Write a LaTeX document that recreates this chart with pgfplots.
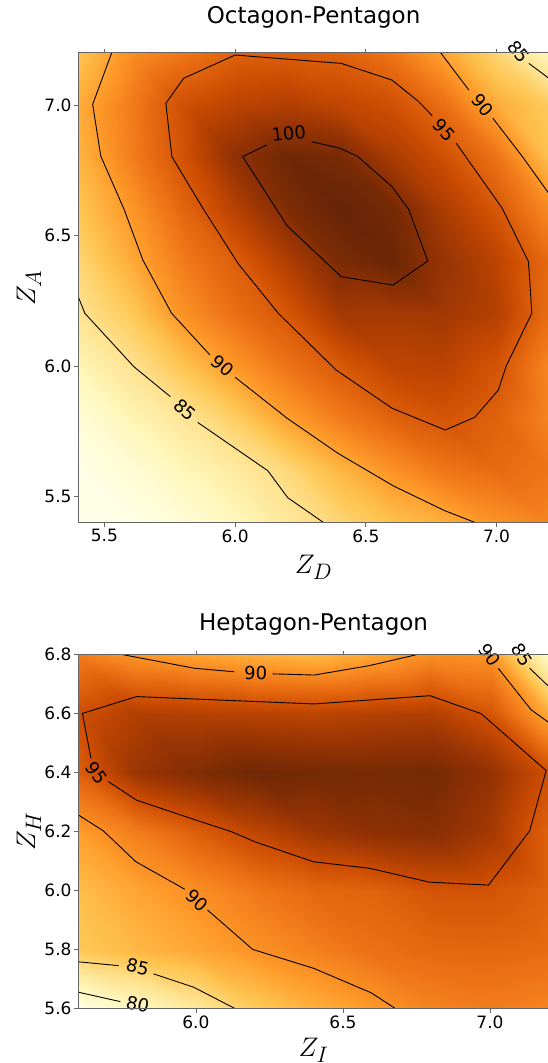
\documentclass[border=0pt]{standalone}
\usepackage{fontspec}
\setmainfont{DejaVu Sans}
\usepackage{pgfplots}
\usepackage{pgfplotstable}
\pgfplotsset{compat=1.18}

\newcommand{\tf}{\fontsize{17}{20}\selectfont}
\newcommand{\cf}{\fontsize{18}{21}\selectfont}
\newcommand{\ttl}{\fontsize{23}{27}\selectfont}
\newcommand{\lf}{\fontsize{24.88}{28}\selectfont}

\tikzset{
  cline/.style={black, line width=0.9pt},
  clab/.style={font=\cf, inner sep=0pt},
}
\pgfplotsset{
  colormap={ylorbr}{rgb255=(255,255,229) rgb255=(255,247,188) rgb255=(254,227,145) rgb255=(254,196,79) rgb255=(254,153,41) rgb255=(236,112,20) rgb255=(204,76,2) rgb255=(153,52,4) rgb255=(102,37,6)},
  myaxis/.style={
    scale only axis, width=470.5pt,
    axis on top, enlargelimits=false, clip mode=individual,
    tick align=outside, major tick length=4pt,
    every tick/.append style={gray!80!black, line width=0.7pt},
    axis line style={gray!80!black, line width=0.8pt},
    ticklabel style={font=\tf, inner sep=2.6pt},
    /pgf/number format/assume math mode=true,
    ylabel style={font=\lf, anchor=base, at={(axis description cs:-0.092,0.5)}},
    unbounded coords=jump,
  }
}

\pgfplotstableread{
x y z
5.4 5.4 77.0
5.6 5.4 78.2
5.8 5.4 80.0
6.0 5.4 81.8
6.2 5.4 84.0
6.4 5.4 86.0
6.6 5.4 87.8
6.8 5.4 89.0
7.0 5.4 91.0
7.2 5.4 92.0
5.4 5.6 78.5
5.6 5.6 80.2
5.8 5.6 82.0
6.0 5.6 83.8
6.2 5.6 85.8
6.4 5.6 88.6
6.6 5.6 91.0
6.8 5.6 93.0
7.0 5.6 93.8
7.2 5.6 93.0
5.4 5.8 80.0
5.6 5.8 82.3
5.8 5.8 84.4
6.0 5.8 86.8
6.2 5.8 90.05
6.4 5.8 92.6
6.6 5.8 94.5
6.8 5.8 95.6
7.0 5.8 94.5
7.2 5.8 92.0
5.4 6.0 82.2
5.6 6.0 84.8
5.8 6.0 87.6
6.0 6.0 90.6
6.2 6.0 93.2
6.4 6.0 95.2
6.6 6.0 97.0
6.8 6.0 97.3
7.0 6.0 95.6
7.2 6.0 91.8
5.4 6.2 84.7
5.6 6.2 87.2
5.8 6.2 91.0
6.0 6.2 93.5
6.2 6.2 95.4
6.4 6.2 98.5
6.6 6.2 98.4
6.8 6.2 98.6
7.0 6.2 97.6
7.2 6.2 93.6
5.4 6.4 86.0
5.6 6.4 89.3
5.8 6.4 92.6
6.0 6.4 94.8
6.2 6.4 97.8
6.4 6.4 100.8
6.6 6.4 101.7
6.8 6.4 99.2
7.0 6.4 97.2
7.2 6.4 93.8
5.4 6.6 87.5
5.6 6.6 90.7
5.8 6.6 94.2
6.0 6.6 97.5
6.2 6.6 100.6
6.4 6.6 102.0
6.6 6.6 101.2
6.8 6.6 98.0
7.0 6.6 95.3
7.2 6.6 91.5
5.4 6.8 88.6
5.6 6.8 92.4
5.8 6.8 95.8
6.0 6.8 99.7
6.2 6.8 101.5
6.4 6.8 101.0
6.6 6.8 98.2
6.8 6.8 96.0
7.0 6.8 93.2
7.2 6.8 87.8
5.4 7.0 89.2
5.6 7.0 92.6
5.8 7.0 96.0
6.0 7.0 97.2
6.2 7.0 97.8
6.4 7.0 96.9
6.6 7.0 96.0
6.8 7.0 93.5
7.0 7.0 89.3
7.2 7.0 87.0
5.4 7.2 87.5
5.6 7.2 91.3
5.8 7.2 93.0
6.0 7.2 94.6
6.2 7.2 94.8
6.4 7.2 94.5
6.6 7.2 93.0
6.8 7.2 89.8
7.0 7.2 86.0
7.2 7.2 82.0
}\topdata

\pgfplotstableread{
x y z
5.6 5.6 77.5
5.8 5.6 80.5
6.0 5.6 83.0
6.2 5.6 86.0
6.4 5.6 88.0
6.6 5.6 89.5
6.8 5.6 91.0
7.0 5.6 91.5
7.2 5.6 91.0
5.6 5.8 86.3
5.8 5.8 87.5
6.0 5.8 88.6
6.2 5.8 90.0
6.4 5.8 91.2
6.6 5.8 92.4
6.8 5.8 93.0
7.0 5.8 93.2
7.2 5.8 92.8
5.6 6.0 87.0
5.8 6.0 88.8
6.0 6.0 90.2
6.2 6.0 91.8
6.4 6.0 93.0
6.6 6.0 93.4
6.8 6.0 94.6
7.0 6.0 94.6
7.2 6.0 93.5
5.6 6.2 89.2
5.8 6.2 91.5
6.0 6.2 93.8
6.2 6.2 96.0
6.4 6.2 97.8
6.6 6.2 98.8
6.8 6.2 99.2
7.0 6.2 97.5
7.2 6.2 93.5
5.6 6.4 93.8
5.8 6.4 98.0
6.0 6.4 99.5
6.2 6.4 100.5
6.4 6.4 100.2
6.6 6.4 100.0
6.8 6.4 100.2
7.0 6.4 98.5
7.2 6.4 95.0
5.6 6.6 95.0
5.8 6.6 96.8
6.0 6.6 96.6
6.2 6.6 96.4
6.4 6.6 96.2
6.6 6.6 96.6
6.8 6.6 96.8
7.0 6.6 94.7
7.2 6.6 88.4
5.6 6.8 91.5
5.8 6.8 89.7
6.0 6.8 88.8
6.2 6.8 88.0
6.4 6.8 87.5
6.6 6.8 88.6
6.8 6.8 90.3
7.0 6.8 89.95
7.2 6.8 80.0
}\botdata

\begin{document}
\begin{tikzpicture}
\useasboundingbox (0pt,0pt) rectangle (548pt,1063pt);

% ---------------- Top: Octagon-Pentagon ----------------
\begin{axis}[myaxis,
  at={(78.3pt,540.3pt)}, anchor=south west, height=470pt,
  xmin=5.4, xmax=7.2, ymin=5.4, ymax=7.2,
  xtick={5.5,6.0,6.5,7.0}, xticklabels={5.5,6.0,6.5,7.0},
  ytick={5.5,6.0,6.5,7.0}, yticklabels={5.5,6.0,6.5,7.0},
  point meta min=79, point meta max=102,
  title={Octagon-Pentagon},
  title style={font=\ttl, anchor=base, at={(axis description cs:0.5,1)}, yshift=22.7pt},
  xlabel={\scalebox{1.08}{$Z_D$}},
  xlabel style={font=\lf, anchor=base, at={(axis description cs:0.5,-0.1077)}},
  ylabel={\scalebox{1.08}{$Z_A$}},
]
\addplot[surf, shader=interp, mesh/rows=10, mesh/cols=10, point meta=\thisrow{z}] table[x=x, y=y] {\topdata};

% 85 (lower left)
\addplot[cline] coordinates {(5.4,6.265) (5.425,6.202) (5.613,5.997) (5.752,5.883) (nan,nan) (5.857,5.784) (6.125,5.599) (6.201,5.496) (6.339,5.4)};
% 90 (left / bottom)
\addplot[cline] coordinates {(5.528,7.2) (5.455,7.002) (5.486,6.804) (5.576,6.598) (5.647,6.406) (5.757,6.202) (5.904,6.042) (nan,nan) (6.0,5.957) (6.199,5.80) (6.393,5.666) (6.607,5.54) (6.802,5.446) (6.92,5.4)};
% 95 (loop)
\addplot[cline] coordinates {(6.754,6.958) (6.703,7.012) (6.6,7.095) (6.406,7.159) (6.0,7.191) (5.803,7.102) (5.735,7.006) (5.758,6.802) (5.873,6.61) (6.011,6.393) (6.165,6.202) (6.386,5.985) (6.601,5.838) (6.804,5.755) (6.917,5.804) (7.007,5.908) (7.037,6.0) (7.135,6.202) (7.127,6.329) (7.122,6.4) (7.022,6.604) (6.846,6.853)};
% 100
\addplot[cline] coordinates {(6.293,6.859) (6.401,6.834) (6.467,6.804) (6.6,6.687) (6.664,6.6) (6.737,6.402) (6.604,6.31) (6.406,6.342) (6.199,6.537) (6.029,6.802) (6.122,6.847)};
% 90 (top right)
\addplot[cline] coordinates {(6.786,7.2) (6.894,7.057) (nan,nan) (6.986,6.949) (7.099,6.802) (7.2,6.661)};
% 85 (top right)
\addplot[cline] coordinates {(7.124,7.159) (7.2,7.102)};

\node[clab, rotate=6] at (axis cs:6.205,6.891) {100};
\node[clab, rotate=-49] at (axis cs:6.80,6.905) {95};
\node[clab, rotate=-50] at (axis cs:6.946,7.0) {90};
\node[clab, rotate=-50] at (axis cs:7.086,7.204) {85};
\node[clab, rotate=-41] at (axis cs:5.953,6.0) {90};
\node[clab, rotate=-41] at (axis cs:5.809,5.832) {85};
\end{axis}

% ---------------- Bottom: Heptagon-Pentagon ----------------
\begin{axis}[myaxis,
  at={(78.3pt,54.3pt)}, anchor=south west, height=354pt,
  xmin=5.6, xmax=7.2, ymin=5.6, ymax=6.8,
  xtick={6.0,6.5,7.0}, xticklabels={6.0,6.5,7.0},
  ytick={5.6,5.8,6.0,6.2,6.4,6.6,6.8}, yticklabels={5.6,5.8,6.0,6.2,6.4,6.6,6.8},
  point meta min=78, point meta max=101,
  title={Heptagon-Pentagon},
  title style={font=\ttl, anchor=base, at={(axis description cs:0.5,1)}, yshift=18pt},
  xlabel={\scalebox{1.08}{$Z_I$}},
  xlabel style={font=\lf, anchor=base, at={(axis description cs:0.5,-0.1356)}},
  ylabel={\scalebox{1.08}{$Z_H$}},
]
\addplot[surf, shader=interp, mesh/rows=7, mesh/cols=9, point meta=\thisrow{z}] table[x=x, y=y] {\botdata};

% 90 (top)
\addplot[cline] coordinates {(5.752,6.8) (5.995,6.754) (6.131,6.742) (nan,nan) (6.261,6.735) (6.402,6.731) (6.59,6.763) (6.75,6.8)};
% 95 (loop)
\addplot[cline] coordinates {(5.643,6.449) (5.614,6.601) (5.798,6.658) (6.402,6.633) (6.796,6.661) (6.97,6.6) (7.191,6.407) (7.135,6.203) (6.995,6.019) (6.794,6.029) (6.59,6.076) (6.4,6.098) (6.2,6.166) (6.121,6.2) (5.998,6.24) (5.798,6.307) (5.702,6.37)};
% 90 (lower)
\addplot[cline] coordinates {(5.6,6.257) (5.685,6.203) (5.796,6.098) (5.962,6.005) (nan,nan) (6.039,5.935) (6.193,5.801) (6.4,5.737) (6.596,5.654) (6.679,5.6)};
% 85 (lower)
\addplot[cline] coordinates {(5.6,5.759) (5.737,5.746) (nan,nan) (5.856,5.718) (5.992,5.673) (6.134,5.6)};
% 80
\addplot[cline] coordinates {(5.6,5.656) (5.743,5.624)};
% 90 (top right)
\addplot[cline] coordinates {(7.028,6.754) (7.14,6.613) (7.2,6.57)};
% 85 (top right)
\addplot[cline] coordinates {(7.135,6.754) (7.2,6.692)};

\node[clab, rotate=-1] at (axis cs:6.203,6.739) {90};
\node[clab, rotate=-55] at (axis cs:5.662,6.40) {95};
\node[clab, rotate=-42] at (axis cs:6.004,5.968) {90};
\node[clab, rotate=-13] at (axis cs:5.802,5.742) {85};
\node[clab, rotate=-12] at (axis cs:5.802,5.616) {80};
\node[clab, rotate=-55] at (axis cs:6.999,6.799) {90};
\node[clab, rotate=-58] at (axis cs:7.109,6.799) {85};
\end{axis}
\end{tikzpicture}
\end{document}
